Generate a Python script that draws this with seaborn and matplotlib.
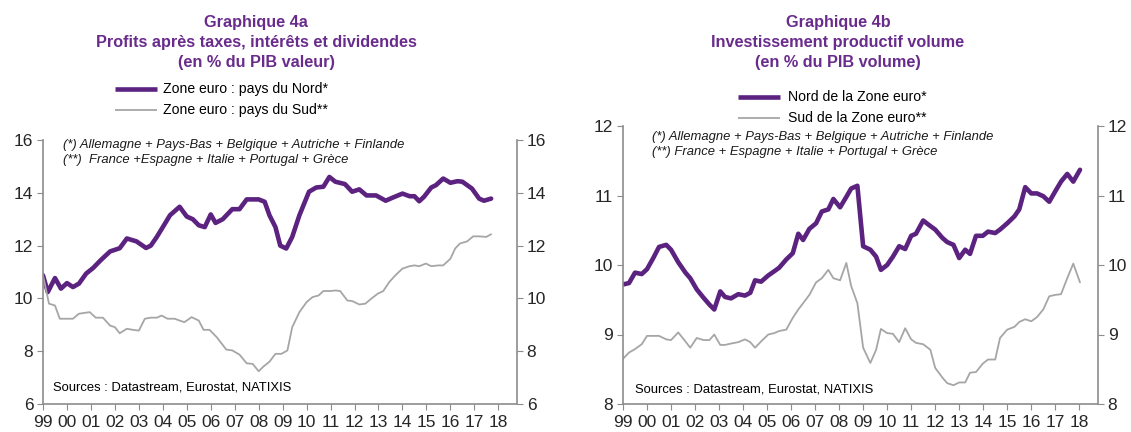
import numpy as np
import pandas as pd
import matplotlib
matplotlib.use('Agg')
import matplotlib.pyplot as plt
import seaborn as sns

# ---- data (year, value) ----
# Graphique 4a : profits (% PIB valeur)
nord_a_x = [1999.0, 1999.2, 1999.5, 1999.75, 2000.0, 2000.25, 2000.5, 2000.8, 2001.1, 2001.4,
            2001.8, 2002.2, 2002.5, 2002.9, 2003.3, 2003.5, 2003.75, 2004.0, 2004.3, 2004.7,
            2005.0, 2005.25, 2005.5, 2005.75, 2006.0, 2006.2, 2006.5, 2006.9, 2007.2, 2007.5,
            2008.0, 2008.25, 2008.45, 2008.7, 2008.9, 2009.15, 2009.4, 2009.7, 2010.1, 2010.4,
            2010.7, 2010.95, 2011.2, 2011.6, 2011.9, 2012.2, 2012.5, 2012.9, 2013.3, 2013.6,
            2014.0, 2014.3, 2014.5, 2014.7, 2014.9, 2015.2, 2015.4, 2015.7, 2016.0, 2016.3,
            2016.5, 2016.7, 2016.9, 2017.2, 2017.4, 2017.7]
nord_a_y = [10.87, 10.24, 10.77, 10.37, 10.58, 10.43, 10.56, 10.94, 11.16, 11.44,
            11.78, 11.9, 12.27, 12.16, 11.91, 12.0, 12.33, 12.7, 13.15, 13.47,
            13.1, 13.0, 12.77, 12.7, 13.18, 12.86, 13.0, 13.38, 13.38, 13.75,
            13.75, 13.66, 13.15, 12.7, 12.0, 11.89, 12.33, 13.15, 14.04, 14.2,
            14.23, 14.6, 14.42, 14.33, 14.04, 14.13, 13.9, 13.9, 13.7, 13.82,
            13.97, 13.87, 13.87, 13.68, 13.85, 14.2, 14.29, 14.54, 14.38, 14.44,
            14.42, 14.29, 14.16, 13.78, 13.7, 13.78]
sud_a_x = [1999.0, 1999.25, 1999.5, 1999.7, 2000.0, 2000.25, 2000.5, 2000.95, 2001.2, 2001.5,
           2001.8, 2002.0, 2002.2, 2002.5, 2002.75, 2003.0, 2003.25, 2003.5, 2003.75, 2003.95,
           2004.2, 2004.5, 2004.7, 2004.9, 2005.2, 2005.5, 2005.7, 2005.95, 2006.25, 2006.65,
           2006.9, 2007.2, 2007.5, 2007.75, 2008.0, 2008.2, 2008.45, 2008.7, 2008.95, 2009.2,
           2009.4, 2009.7, 2010.0, 2010.25, 2010.5, 2010.7, 2011.0, 2011.2, 2011.4, 2011.7,
           2011.9, 2012.2, 2012.45, 2012.7, 2012.97, 2013.2, 2013.45, 2013.7, 2014.0, 2014.3,
           2014.5, 2014.7, 2014.98, 2015.2, 2015.5, 2015.7, 2016.0, 2016.2, 2016.4, 2016.7,
           2016.95, 2017.2, 2017.5, 2017.7]
sud_a_y = [10.87, 9.8, 9.73, 9.23, 9.23, 9.23, 9.42, 9.48, 9.27, 9.27,
           8.97, 8.91, 8.68, 8.85, 8.81, 8.78, 9.23, 9.27, 9.27, 9.35,
           9.23, 9.23, 9.16, 9.1, 9.29, 9.16, 8.81, 8.81, 8.53, 8.06,
           8.03, 7.87, 7.54, 7.52, 7.24, 7.42, 7.6, 7.9, 7.9, 8.03,
           8.91, 9.48, 9.86, 10.05, 10.11, 10.28, 10.28, 10.3, 10.28, 9.92,
           9.9, 9.77, 9.8, 9.99, 10.18, 10.28, 10.62, 10.87, 11.13, 11.22,
           11.25, 11.22, 11.32, 11.22, 11.25, 11.25, 11.5, 11.89, 12.08, 12.16,
           12.35, 12.35, 12.33, 12.43]

# Graphique 4b : investissement productif (% PIB volume)
nord_b_x = [1999.0, 1999.25, 1999.5, 1999.78, 2000.0, 2000.26, 2000.5, 2000.8, 2001.0, 2001.3,
            2001.6, 2001.8, 2002.07, 2002.35, 2002.6, 2002.8, 2003.05, 2003.25, 2003.5, 2003.8,
            2004.08, 2004.3, 2004.5, 2004.75, 2005.05, 2005.3, 2005.5, 2005.8, 2006.07, 2006.3,
            2006.5, 2006.76, 2007.04, 2007.28, 2007.55, 2007.76, 2008.04, 2008.3, 2008.5, 2008.76,
            2009.0, 2009.3, 2009.54, 2009.74, 2010.0, 2010.24, 2010.5, 2010.75, 2011.0, 2011.2,
            2011.5, 2011.8, 2012.0, 2012.3, 2012.5, 2012.76, 2013.0, 2013.25, 2013.45, 2013.7,
            2013.98, 2014.2, 2014.5, 2014.7, 2015.0, 2015.3, 2015.5, 2015.75, 2016.0, 2016.24,
            2016.5, 2016.75, 2017.0, 2017.24, 2017.5, 2017.75, 2018.03]
nord_b_y = [9.72, 9.74, 9.89, 9.87, 9.94, 10.1, 10.26, 10.29, 10.22, 10.04,
            9.89, 9.81, 9.65, 9.53, 9.43, 9.36, 9.62, 9.54, 9.52, 9.58,
            9.56, 9.6, 9.78, 9.76, 9.85, 9.91, 9.96, 10.08, 10.17, 10.45,
            10.36, 10.52, 10.6, 10.77, 10.8, 10.95, 10.83, 10.98, 11.1, 11.14,
            10.27, 10.22, 10.12, 9.93, 10.0, 10.12, 10.27, 10.23, 10.42, 10.45,
            10.64, 10.56, 10.51, 10.39, 10.33, 10.29, 10.1, 10.22, 10.16, 10.42,
            10.42, 10.48, 10.46, 10.51, 10.6, 10.7, 10.8, 11.12, 11.03, 11.03,
            10.99, 10.91, 11.06, 11.2, 11.31, 11.2, 11.37]
sud_b_x = nord_b_x
sud_b_y = [8.65, 8.74, 8.79, 8.86, 8.98, 8.98, 8.98, 8.93, 8.92, 9.03,
           8.9, 8.81, 8.95, 8.92, 8.92, 9.0, 8.85, 8.85, 8.87, 8.89,
           8.93, 8.89, 8.81, 8.9, 9.0, 9.02, 9.05, 9.07, 9.24, 9.36,
           9.45, 9.57, 9.75, 9.81, 9.93, 9.81, 9.78, 10.03, 9.7, 9.45,
           8.81, 8.59, 8.78, 9.08, 9.02, 9.01, 8.89, 9.09, 8.93, 8.88,
           8.86, 8.78, 8.52, 8.38, 8.3, 8.27, 8.31, 8.31, 8.45, 8.46,
           8.58, 8.64, 8.64, 8.95, 9.07, 9.11, 9.18, 9.22, 9.19, 9.25,
           9.36, 9.55, 9.57, 9.58, 9.81, 10.02, 9.75]

years = list(range(1999, 2019))
year_labels = [f'{y % 100:02d}' for y in years]

PURPLE = '#5c2280'
TITLE_PURPLE = '#6a2c8c'
GREY = '#a6a6a6'
AXIS_GREY = '#8c8c8c'

sns.set_style('white')
plt.rcParams['font.family'] = ['Liberation Sans', 'DejaVu Sans']

W, H = 1131, 432
fig = plt.figure(figsize=(W / 100, H / 100), dpi=100)


def px_axes(x0, y_top, x1, y_bot):
    return fig.add_axes([x0 / W, 1 - y_bot / H, (x1 - x0) / W, (y_bot - y_top) / H])


def fig_text(x, y, s, **kw):
    fig.text(x / W, 1 - y / H, s, **kw)


def draw_panel(ax, nx, ny, sx, sy, nord_lbl, sud_lbl, ylim, yticks):
    df = pd.concat([
        pd.DataFrame({'annee': nx, 'val': ny, 'serie': nord_lbl}),
        pd.DataFrame({'annee': sx, 'val': sy, 'serie': sud_lbl}),
    ])
    sns.lineplot(data=df, x='annee', y='val', hue='serie', size='serie',
                 palette={nord_lbl: PURPLE, sud_lbl: GREY},
                 sizes={nord_lbl: 3.3, sud_lbl: 1.3}, ax=ax, legend=False,
                 estimator=None, sort=False)
    ax.set_xlim(1999, 2018.78)
    ax.set_ylim(*ylim)
    ax.set_yticks(yticks)
    ax.set_xticks(years)
    ax.set_xticklabels(year_labels)
    ax.set_xlabel('')
    ax.set_ylabel('')
    for side in ['left', 'right', 'bottom']:
        ax.spines[side].set_visible(True)
        ax.spines[side].set_color(AXIS_GREY)
        ax.spines[side].set_linewidth(1.2)
    ax.spines['top'].set_visible(False)
    ax.tick_params(axis='y', which='both', left=True, right=True, labelleft=True,
                   labelright=True, direction='out', length=4, color=AXIS_GREY,
                   labelsize=12.5, pad=3)
    ax.tick_params(axis='x', bottom=True, direction='out', length=4, color=AXIS_GREY,
                   labelsize=12.5, pad=4)
    return ax


# left panel
ax1 = px_axes(43, 140, 517, 404)
draw_panel(ax1, nord_a_x, nord_a_y, sud_a_x, sud_a_y,
           'Zone euro : pays du Nord*', 'Zone euro : pays du Sud**', (6, 16), [6, 8, 10, 12, 14, 16])
# right panel
ax2 = px_axes(623, 126, 1098, 404)
draw_panel(ax2, nord_b_x, nord_b_y, sud_b_x, sud_b_y,
           'Nord de la Zone euro*', 'Sud de la Zone euro**', (8, 12), [8, 9, 10, 11, 12])

# titles
title_kw = dict(ha='center', va='center', color=TITLE_PURPLE, fontweight='bold', fontsize=11.7)
for i, line in enumerate(['Graphique 4a', 'Profits après taxes, intérêts et dividendes',
                          '(en % du PIB valeur)']):
    fig_text(256, 23 + 20 * i, line, **title_kw)
for i, line in enumerate(['Graphique 4b', 'Investissement productif volume',
                          '(en % du PIB volume)']):
    fig_text(838, 23 + 20 * i, line, **title_kw)


# legends (manual line + text)
def legend_rows(x_line, x_text, y0, labels):
    for j, (lbl, col, lw) in enumerate(zip(labels, [PURPLE, GREY], [3.3, 1.3])):
        y = y0 + 21 * j
        fig.add_artist(plt.Line2D([x_line / W, (x_line + 42) / W], [1 - y / H, 1 - y / H],
                                  color=col, lw=lw, solid_capstyle='butt'))
        fig_text(x_text, y, lbl, ha='left', va='center', fontsize=10.1, color='black')


legend_rows(115, 163, 89, ['Zone euro : pays du Nord*', 'Zone euro : pays du Sud**'])
legend_rows(738, 788, 97, ['Nord de la Zone euro*', 'Sud de la Zone euro**'])

# notes
note_kw = dict(ha='left', va='center', fontsize=9.4, style='italic', color='#1a1a1a')
fig_text(63, 145, '(*) Allemagne + Pays-Bas + Belgique + Autriche + Finlande', **note_kw)
fig_text(63, 160, '(**)  France +Espagne + Italie + Portugal + Grèce', **note_kw)
fig_text(652, 137, '(*) Allemagne + Pays-Bas + Belgique + Autriche + Finlande', **note_kw)
fig_text(652, 152, '(**) France + Espagne + Italie + Portugal + Grèce', **note_kw)

src_kw = dict(ha='left', va='center', fontsize=9.4, color='black')
fig_text(53, 388, 'Sources : Datastream, Eurostat, NATIXIS', **src_kw)
fig_text(635, 390, 'Sources : Datastream, Eurostat, NATIXIS', **src_kw)

fig.savefig('out.png', dpi=100, facecolor='white')
